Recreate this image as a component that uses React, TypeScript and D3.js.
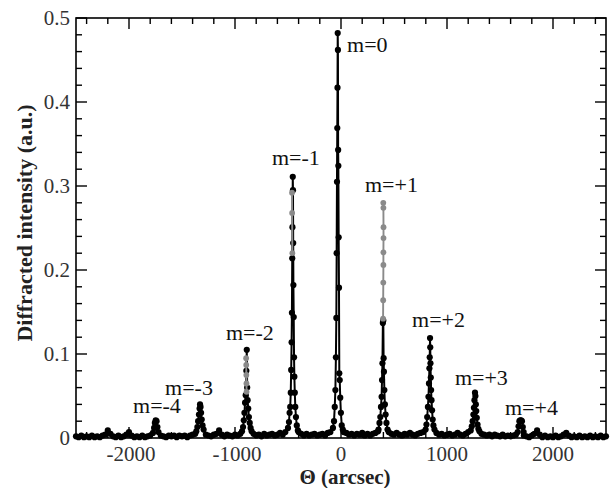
import React from "react";
import * as d3 from "d3";

const W = 612;
const H = 488;

const thetaDomain: [number, number] = [-2500, 2500];
const intensityDomain: [number, number] = [0, 0.5];

const xTickValues = [-2000, -1000, 0, 1000, 2000];
const xTickLabels = ["-2000", "-1000", "0", "1000", "2000"];
const yTickValues = [0, 0.1, 0.2, 0.3, 0.4, 0.5];
const yTickLabels = ["0", "0.1", "0.2", "0.3", "0.4", "0.5"];

const orderLabels = ["m=-4", "m=-3", "m=-2", "m=-1", "m=0", "m=+1", "m=+2", "m=+3", "m=+4"];
const labelTheta = [-1962, -1660, -1085, -651, 57, 226, 670, 1075, 1547];
const labelIntensity = [0.03, 0.051, 0.117, 0.325, 0.4595, 0.293, 0.132, 0.063, 0.027];

// background (off-peak) part of the scan: [theta (arcsec), intensity (a.u.)]
const baselineScan: [number, number][] = [
  [-2500, 0.002], [-2475, 0.001], [-2450, 0.003], [-2425, 0.001], [-2400, 0.002], [-2375, 0.001],
  [-2350, 0.003], [-2325, 0.001], [-2300, 0.002], [-2275, 0.001], [-2250, 0.003], [-2225, 0.004],
  [-2200, 0.009], [-2175, 0.005], [-2150, 0.002], [-2125, 0.001], [-2100, 0.003], [-2075, 0.001],
  [-2050, 0.002], [-2025, 0.004], [-2000, 0.007], [-1975, 0.003], [-1950, 0.001], [-1925, 0.002],
  [-1900, 0.001], [-1875, 0.003], [-1850, 0.001], [-1825, 0.002], [-1800, 0.003],
  [-1700, 0.003], [-1675, 0.002], [-1650, 0.001], [-1625, 0.003], [-1600, 0.002], [-1575, 0.003],
  [-1550, 0.001], [-1525, 0.003], [-1500, 0.002], [-1475, 0.003], [-1450, 0.001], [-1425, 0.003],
  [-1400, 0.004], [-1375, 0.005],
  [-1275, 0.004], [-1250, 0.003], [-1225, 0.002], [-1200, 0.004], [-1175, 0.005], [-1150, 0.009],
  [-1125, 0.004], [-1100, 0.002], [-1075, 0.004], [-1050, 0.003], [-1025, 0.002], [-1000, 0.004],
  [-975, 0.003], [-950, 0.005],
  [-825, 0.005], [-800, 0.003], [-775, 0.004], [-750, 0.002], [-725, 0.005], [-700, 0.003],
  [-675, 0.004], [-650, 0.005], [-625, 0.003], [-600, 0.004], [-575, 0.006], [-550, 0.004],
  [-525, 0.007],
  [-400, 0.007], [-375, 0.005], [-350, 0.003], [-325, 0.005], [-300, 0.003], [-275, 0.004],
  [-250, 0.005], [-225, 0.003], [-200, 0.004], [-175, 0.005], [-150, 0.003], [-125, 0.006],
  [-100, 0.007],
  [25, 0.007], [50, 0.006], [75, 0.004], [100, 0.005], [125, 0.003], [150, 0.005], [175, 0.004],
  [200, 0.006], [225, 0.003], [250, 0.005], [275, 0.003], [300, 0.005], [325, 0.006], [350, 0.008],
  [450, 0.007], [475, 0.005], [500, 0.004], [525, 0.006], [550, 0.004], [575, 0.003], [600, 0.005],
  [625, 0.004], [650, 0.006], [675, 0.004], [700, 0.003], [725, 0.005], [750, 0.006], [775, 0.007],
  [900, 0.006], [925, 0.004], [950, 0.005], [975, 0.003], [1000, 0.004], [1025, 0.005],
  [1050, 0.003], [1075, 0.004], [1100, 0.006], [1125, 0.004], [1150, 0.003], [1175, 0.005],
  [1200, 0.007],
  [1325, 0.005], [1350, 0.004], [1375, 0.003], [1400, 0.004], [1425, 0.002], [1450, 0.004],
  [1475, 0.003], [1500, 0.002], [1525, 0.004], [1550, 0.002], [1575, 0.003], [1600, 0.002],
  [1625, 0.003], [1650, 0.004],
  [1725, 0.003], [1750, 0.002], [1775, 0.001], [1800, 0.003], [1825, 0.005], [1850, 0.009],
  [1875, 0.004], [1900, 0.001], [1925, 0.003], [1950, 0.001], [1975, 0.002], [2000, 0.001],
  [2025, 0.003], [2050, 0.001], [2075, 0.002], [2100, 0.004], [2125, 0.006], [2150, 0.003],
  [2175, 0.001], [2200, 0.002], [2225, 0.001], [2250, 0.003], [2275, 0.001], [2300, 0.002],
  [2325, 0.001], [2350, 0.003], [2375, 0.001], [2400, 0.002], [2425, 0.001], [2450, 0.003],
  [2475, 0.001], [2500, 0.002],
];

// diffraction peaks of the scan: [theta (arcsec), intensity (a.u.)]
const peakScan: [number, number][] = [
  // m = -4
  [-1774, 0.006], [-1763, 0.012], [-1756, 0.018], [-1748, 0.021], [-1740, 0.02], [-1732, 0.013], [-1722, 0.007],
  // m = -3
  [-1365, 0.008], [-1355, 0.013], [-1348, 0.02], [-1340, 0.028], [-1334, 0.035], [-1330, 0.04],
  [-1325, 0.037], [-1320, 0.03], [-1314, 0.022], [-1306, 0.015], [-1296, 0.01],
  // m = -2
  [-934, 0.008], [-924, 0.013], [-917, 0.021], [-911, 0.03], [-905, 0.042], [-899, 0.051],
  [-893, 0.08], [-889, 0.105], [-885, 0.06], [-881, 0.045], [-875, 0.035], [-869, 0.025],
  [-861, 0.018], [-853, 0.012], [-843, 0.008],
  // m = -1
  [-500, 0.012], [-491, 0.019], [-485, 0.03], [-479, 0.037], [-474, 0.054], [-470, 0.081],
  [-466, 0.114], [-463, 0.149], [-460, 0.214], [-458, 0.251], [-455, 0.311], [-453, 0.295],
  [-451, 0.232], [-449, 0.182], [-446, 0.144], [-443, 0.096], [-440, 0.073], [-436, 0.054],
  [-431, 0.037], [-425, 0.025], [-417, 0.015], [-407, 0.009],
  // m = 0
  [-76, 0.012], [-66, 0.02], [-59, 0.037], [-53, 0.057], [-48, 0.096], [-44, 0.143],
  [-41, 0.22], [-38, 0.305], [-35, 0.369], [-33, 0.417], [-31, 0.482], [-29, 0.462],
  [-27, 0.343], [-25, 0.324], [-22, 0.239], [-19, 0.179], [-16, 0.077], [-12, 0.069],
  [-7, 0.048], [-1, 0.03], [7, 0.015], [17, 0.01],
  // m = +1
  [354, 0.01], [363, 0.018], [371, 0.025], [377, 0.037], [383, 0.049], [387, 0.069],
  [391, 0.089], [395, 0.137], [399, 0.14], [402, 0.095], [405, 0.079], [409, 0.057],
  [414, 0.04], [421, 0.028], [429, 0.018], [439, 0.01],
  // m = +2
  [798, 0.01], [806, 0.016], [813, 0.025], [820, 0.037], [825, 0.049], [830, 0.065],
  [834, 0.083], [837, 0.096], [840, 0.119], [842, 0.108], [844, 0.089], [847, 0.072],
  [850, 0.057], [854, 0.045], [859, 0.033], [865, 0.022], [872, 0.015], [882, 0.01],
  // m = +3
  [1224, 0.009], [1234, 0.014], [1242, 0.02], [1249, 0.028], [1254, 0.036], [1259, 0.045],
  [1264, 0.054], [1268, 0.05], [1272, 0.04], [1276, 0.032], [1281, 0.024], [1288, 0.016],
  [1296, 0.011], [1306, 0.008],
  // m = +4
  [1667, 0.007], [1675, 0.014], [1683, 0.02], [1691, 0.021], [1699, 0.021], [1707, 0.02],
  [1715, 0.013], [1723, 0.007],
];

// second (grey) trace: [order m, theta (arcsec), intensity (a.u.)]
const grayScan: [number, number, number][] = [
  [-2, -895, 0.095], [-2, -894, 0.087], [-2, -893, 0.075], [-2, -892, 0.065], [-2, -891, 0.055],
  [-1, -462, 0.292], [-1, -461, 0.268], [-1, -459, 0.22],
  [1, 397, 0.142], [1, 398, 0.164], [1, 399, 0.185], [1, 400, 0.206], [1, 400, 0.221],
  [1, 401, 0.238], [1, 401, 0.251], [1, 400, 0.274], [1, 399, 0.28],
];

const FONT = "Liberation Serif";

export default function App() {
  const x = d3.scaleLinear().domain(thetaDomain).range([76, 606]);
  const y = d3.scaleLinear().domain(intensityDomain).range([438, 18]);
  const [x0, x1] = x.range();
  const [yb, yt] = y.range();

  const scan = [...baselineScan, ...peakScan].sort((a, b) => a[0] - b[0]);
  const line = d3
    .line<[number, number]>()
    .x((d) => x(d[0]))
    .y((d) => y(d[1]));

  const grayGroups = Array.from(d3.group(grayScan, (d) => d[0]).values()).map((g) =>
    g.map((d) => [d[1], d[2]] as [number, number])
  );

  const xMinor = d3.range(-2400, 2401, 200).filter((v) => !xTickValues.includes(v));
  const yMinor = d3.range(0.02, 0.5, 0.02).filter((v) => Math.abs(Math.round(v * 10) - v * 10) > 1e-6);

  const majorLen = 11;
  const minorLen = 6;
  const textStyle = { fontFamily: FONT };

  return (
    <svg
      width={W}
      height={H}
      viewBox={`0 0 ${W} ${H}`}
      style={{ position: "absolute", left: 0, top: 0, display: "block", background: "#fff" }}
    >
      <rect x={0} y={0} width={W} height={H} fill="#fff" />
      {/* ticks */}
      <g stroke="#000" strokeWidth={1.4}>
        {xTickValues.map((v) => (
          <g key={"xM" + v}>
            <line x1={x(v)} x2={x(v)} y1={yt} y2={yt + majorLen} />
            <line x1={x(v)} x2={x(v)} y1={yb} y2={yb - majorLen} />
          </g>
        ))}
        {xMinor.map((v) => (
          <g key={"xm" + v}>
            <line x1={x(v)} x2={x(v)} y1={yt} y2={yt + minorLen} />
            <line x1={x(v)} x2={x(v)} y1={yb} y2={yb - minorLen} />
          </g>
        ))}
        {yTickValues.map((v) => (
          <g key={"yM" + v}>
            <line x1={x0} x2={x0 + majorLen} y1={y(v)} y2={y(v)} />
            <line x1={x1} x2={x1 - majorLen} y1={y(v)} y2={y(v)} />
          </g>
        ))}
        {yMinor.map((v) => (
          <g key={"ym" + v}>
            <line x1={x0} x2={x0 + minorLen} y1={y(v)} y2={y(v)} />
            <line x1={x1} x2={x1 - minorLen} y1={y(v)} y2={y(v)} />
          </g>
        ))}
      </g>
      <rect x={x0} y={yt} width={x1 - x0} height={yb - yt} fill="none" stroke="#000" strokeWidth={1.6} />

      {/* black trace */}
      <path d={line(scan) || ""} fill="none" stroke="#000" strokeWidth={2} strokeLinejoin="round" />
      <g fill="#000">
        {scan.map((d, i) => (
          <circle key={"b" + i} cx={x(d[0])} cy={y(d[1])} r={3.1} />
        ))}
      </g>

      {/* grey trace */}
      {grayGroups.map((g, gi) => (
        <g key={"g" + gi}>
          <path d={line(g) || ""} fill="none" stroke="#8a8a8a" strokeWidth={1.9} />
          {g.map((d, i) => (
            <circle key={i} cx={x(d[0])} cy={y(d[1])} r={2.9} fill="#8a8a8a" />
          ))}
        </g>
      ))}

      {/* tick labels */}
      <g style={textStyle} fontSize={21} fill="#333">
        {yTickValues.map((v, i) => (
          <text key={"yl" + v} x={x0 - 6} y={y(v)} textAnchor="end" dominantBaseline="central">
            {yTickLabels[i]}
          </text>
        ))}
        {xTickValues.map((v, i) => (
          <text key={"xl" + v} x={x(v) + (v < 0 ? 2 : 0)} y={460.5} textAnchor="middle">
            {xTickLabels[i]}
          </text>
        ))}
      </g>

      {/* order labels */}
      <g style={textStyle} fontSize={22} fill="#111">
        {orderLabels.map((t, i) => (
          <text key={t} x={x(labelTheta[i])} y={y(labelIntensity[i])}>
            {t}
          </text>
        ))}
      </g>

      {/* axis titles */}
      <text x={345} y={484} textAnchor="middle" style={textStyle} fontSize={21} fontWeight="bold" fill="#222">
        Θ (arcsec)
      </text>
      <text
        transform="translate(32,223) rotate(-90)"
        textAnchor="middle"
        style={textStyle}
        fontSize={22}
        fontWeight="bold"
        fill="#222"
      >
        Diffracted intensity (a.u.)
      </text>
    </svg>
  );
}
